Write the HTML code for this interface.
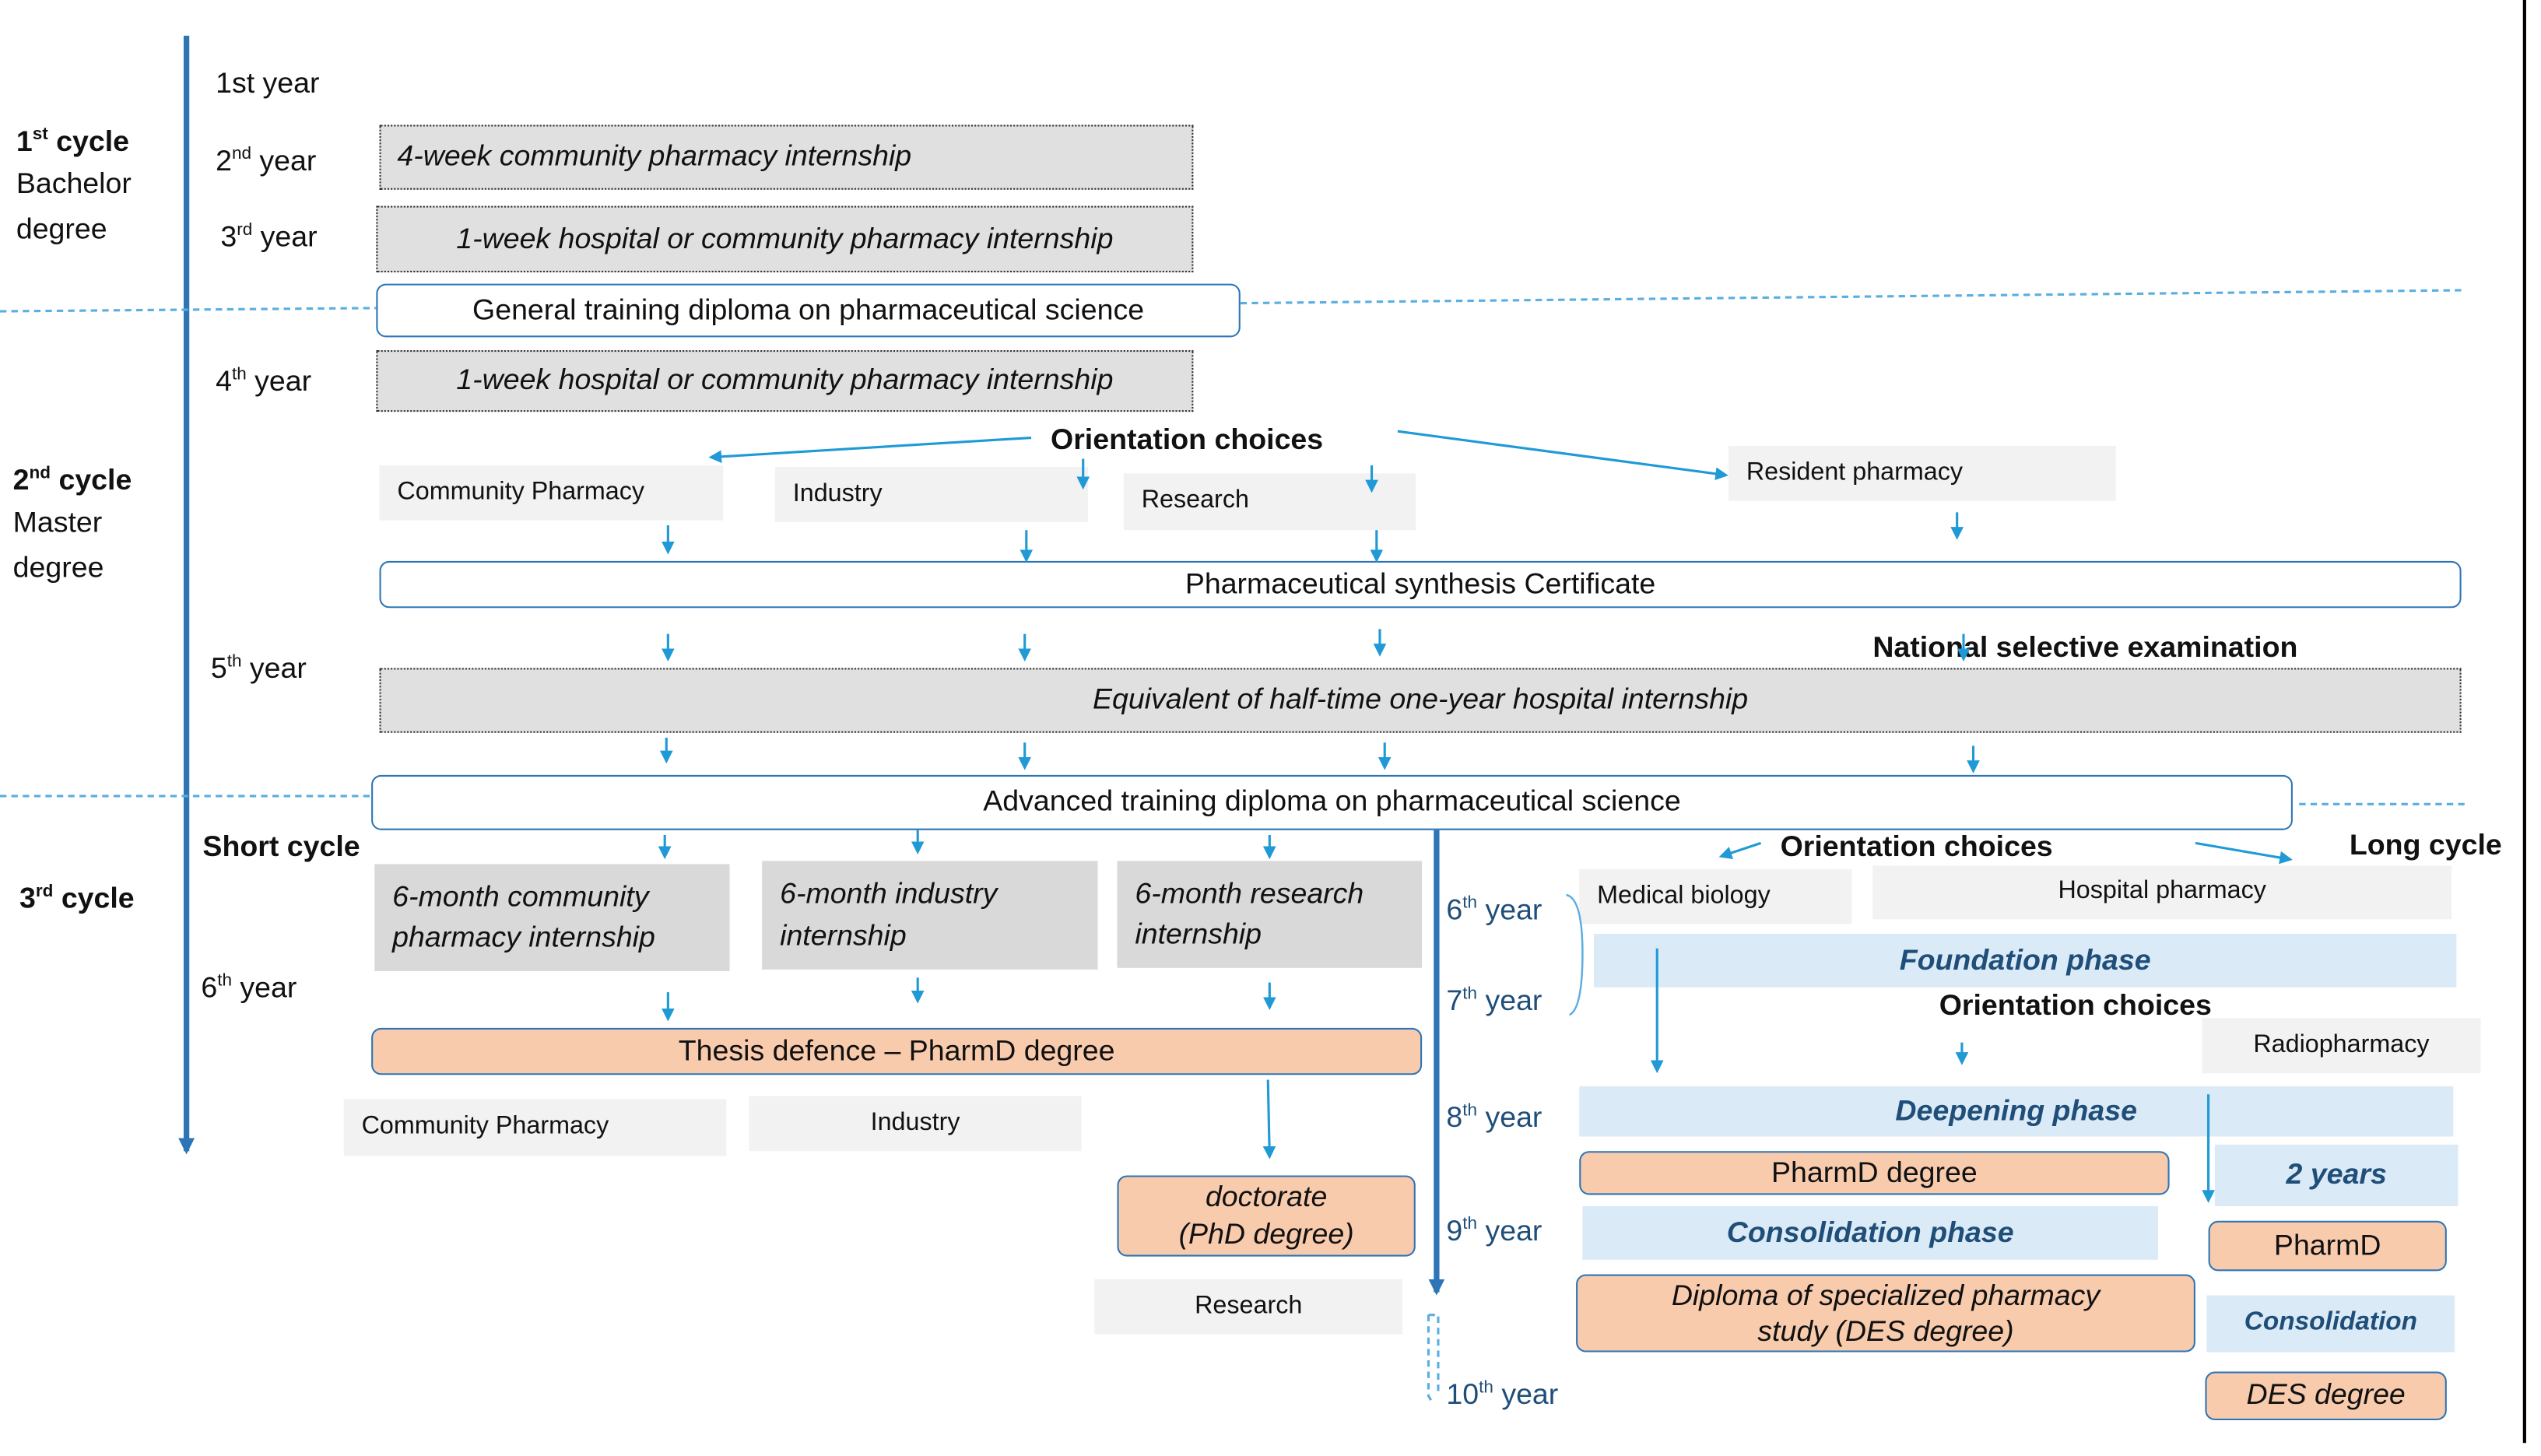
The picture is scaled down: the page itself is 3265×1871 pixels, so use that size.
<!DOCTYPE html>
<html><head><meta charset="utf-8"><style>
html,body{margin:0;padding:0;background:#fff;overflow:hidden}
#w{position:absolute;left:0;top:0;width:1560px;height:894px;transform:scale(2.0834);transform-origin:0 0;font-family:"Liberation Sans",sans-serif;color:#111}
.t{position:absolute;white-space:nowrap;font-size:18px;line-height:1}
.b{font-weight:bold}
.bx{position:absolute;box-sizing:border-box;display:flex;align-items:center;justify-content:center;text-align:center;font-size:17px;line-height:1.3;white-space:nowrap}
.gd{background:#e0e0e0;border:1.5px dotted #333;font-style:italic;font-size:18px}
.wb{background:#fff;border:1.5px solid #2e75b6;border-radius:6px;font-size:18px}
.lg{background:#f2f2f2;font-size:15.5px;justify-content:flex-start;padding-left:11px}
.g2{background:#d9d9d9;font-style:italic;font-size:18px;justify-content:flex-start;padding-left:11px;text-align:left;white-space:normal;line-height:1.4}
.sa{background:#f8cbad;border:1.5px solid #2e75b6;border-radius:6px;font-size:18px}
.lb{background:#dbeaf7;color:#1f4e79;font-weight:bold;font-style:italic;font-size:18px}
sup{font-size:60%;line-height:0}
svg{z-index:5}
</style></head><body><div id="w">
<svg width="1560" height="894" style="position:absolute;left:0;top:0">
<defs><marker id="a" markerWidth="8" markerHeight="8" refX="6" refY="4" orient="auto" markerUnits="userSpaceOnUse"><path d="M0,0L8,4L0,8z" fill="#1f9ad6"/></marker>
<marker id="a2" markerWidth="10" markerHeight="10" refX="8" refY="5" orient="auto" markerUnits="userSpaceOnUse"><path d="M0,0L10,5L0,10z" fill="#2e75b6"/></marker></defs>
<g stroke="#2e75b6" stroke-width="3.5" fill="none">
<line x1="115" y1="22" x2="115" y2="710" marker-end="url(#a2)"/>
<line x1="886" y1="512" x2="886" y2="797" marker-end="url(#a2)"/>
</g>
<line x1="1557" y1="0" x2="1557" y2="890" stroke="#000" stroke-width="2"/>
<g stroke="#5aaee0" stroke-width="1.5" stroke-dasharray="4,3" fill="none">
<line x1="0" y1="192" x2="232" y2="190"/><line x1="765" y1="187" x2="1520" y2="179"/>
<line x1="0" y1="491" x2="229" y2="491"/><line x1="1418" y1="496" x2="1520" y2="496"/>
<path d="M881,811h6v50M881,811v50l3,5"/>
</g>
<g stroke="#1f9ad6" stroke-width="1.5" fill="none" marker-end="url(#a)">
<line x1="636" y1="270" x2="439" y2="282"/><line x1="862" y1="266" x2="1064" y2="293"/>
<line x1="668" y1="283" x2="668" y2="300"/><line x1="846" y1="287" x2="846" y2="302"/>
<line x1="412" y1="324" x2="412" y2="340"/><line x1="633" y1="327" x2="633" y2="345"/>
<line x1="849" y1="327" x2="849" y2="345"/><line x1="1207" y1="316" x2="1207" y2="331"/>
<line x1="412" y1="391" x2="412" y2="406"/><line x1="632" y1="391" x2="632" y2="406"/>
<line x1="851" y1="388" x2="851" y2="403"/><line x1="1211" y1="391" x2="1211" y2="406"/>
<line x1="411" y1="455" x2="411" y2="469"/><line x1="632" y1="458" x2="632" y2="473"/>
<line x1="854" y1="458" x2="854" y2="473"/><line x1="1217" y1="460" x2="1217" y2="475"/>
<line x1="410" y1="515" x2="410" y2="528"/><line x1="566" y1="512" x2="566" y2="525"/>
<line x1="783" y1="515" x2="783" y2="528"/>
<line x1="412" y1="612" x2="412" y2="628"/><line x1="566" y1="603" x2="566" y2="617"/>
<line x1="783" y1="606" x2="783" y2="621"/>
<line x1="782" y1="666" x2="783" y2="713"/>
<line x1="1086" y1="520" x2="1062" y2="528"/><line x1="1354" y1="520" x2="1412" y2="530"/>
<line x1="1022" y1="585" x2="1022" y2="660"/><line x1="1210" y1="643" x2="1210" y2="655"/>
<line x1="1362" y1="675" x2="1362" y2="740"/>
</g>
<path d="M966,552q10,2 10,36q0,34-8,38" stroke="#5aaee0" stroke-width="1.2" fill="none"/>
</svg>

<div class="t b" style="left:10px;top:78px">1<sup>st</sup> cycle</div>
<div class="t" style="left:10px;top:104px">Bachelor</div>
<div class="t" style="left:10px;top:132px">degree</div>
<div class="t b" style="left:8px;top:287px">2<sup>nd</sup> cycle</div>
<div class="t" style="left:8px;top:313px">Master</div>
<div class="t" style="left:8px;top:341px">degree</div>
<div class="t b" style="left:12px;top:545px">3<sup>rd</sup> cycle</div>
<div class="t" style="left:133px;top:42px">1st year</div>
<div class="t" style="left:133px;top:90px">2<sup>nd</sup> year</div>
<div class="t" style="left:136px;top:137px">3<sup>rd</sup> year</div>
<div class="t" style="left:133px;top:226px">4<sup>th</sup> year</div>
<div class="t" style="left:130px;top:403px">5<sup>th</sup> year</div>
<div class="t" style="left:124px;top:600px">6<sup>th</sup> year</div>
<div class="t b" style="left:125px;top:513px">Short cycle</div>

<div class="bx gd" style="left:234px;top:77px;width:502px;height:40px;justify-content:flex-start;padding-left:10px">4-week community pharmacy internship</div>
<div class="bx gd" style="left:232px;top:127px;width:504px;height:41px">1-week hospital or community pharmacy internship</div>
<div class="bx wb" style="left:232px;top:175px;width:533px;height:33px">General training diploma on pharmaceutical science</div>
<div class="bx gd" style="left:232px;top:216px;width:504px;height:38px">1-week hospital or community pharmacy internship</div>

<div class="t b" style="left:648px;top:262px">Orientation choices</div>
<div class="bx lg" style="left:234px;top:287px;width:212px;height:34px">Community Pharmacy</div>
<div class="bx lg" style="left:478px;top:288px;width:193px;height:34px">Industry</div>
<div class="bx lg" style="left:693px;top:292px;width:180px;height:35px">Research</div>
<div class="bx lg" style="left:1066px;top:275px;width:239px;height:34px">Resident pharmacy</div>
<div class="bx wb" style="left:234px;top:346px;width:1284px;height:29px">Pharmaceutical synthesis Certificate</div>
<div class="t b" style="left:1155px;top:390px">National selective examination</div>
<div class="bx gd" style="left:234px;top:412px;width:1284px;height:40px">Equivalent of half-time one-year hospital internship</div>
<div class="bx wb" style="left:229px;top:478px;width:1185px;height:34px">Advanced training diploma on pharmaceutical science</div>

<div class="bx g2" style="left:231px;top:533px;width:219px;height:66px">6-month community pharmacy internship</div>
<div class="bx g2" style="left:470px;top:531px;width:207px;height:67px">6-month industry internship</div>
<div class="bx g2" style="left:689px;top:531px;width:188px;height:66px">6-month research internship</div>
<div class="bx sa" style="left:229px;top:634px;width:648px;height:29px">Thesis defence – PharmD degree</div>
<div class="bx lg" style="left:212px;top:678px;width:236px;height:35px">Community Pharmacy</div>
<div class="bx lg" style="left:462px;top:676px;width:205px;height:34px;justify-content:center;padding:0">Industry</div>
<div class="bx sa" style="left:689px;top:725px;width:184px;height:50px;font-style:italic;white-space:normal">doctorate<br>(PhD degree)</div>
<div class="bx lg" style="left:675px;top:789px;width:190px;height:34px;justify-content:center;padding:0">Research</div>

<div class="t b" style="left:1098px;top:513px">Orientation choices</div>
<div class="t b" style="left:1449px;top:512px">Long cycle</div>
<div class="t" style="left:892px;top:552px;color:#1f4e79">6<sup>th</sup> year</div>
<div class="t" style="left:892px;top:608px;color:#1f4e79">7<sup>th</sup> year</div>
<div class="t" style="left:892px;top:680px;color:#1f4e79">8<sup>th</sup> year</div>
<div class="t" style="left:892px;top:750px;color:#1f4e79">9<sup>th</sup> year</div>
<div class="t" style="left:892px;top:851px;color:#1f4e79">10<sup>th</sup> year</div>
<div class="bx lg" style="left:974px;top:536px;width:168px;height:34px">Medical biology</div>
<div class="bx lg" style="left:1155px;top:534px;width:357px;height:33px;justify-content:center;padding:0">Hospital pharmacy</div>
<div class="bx lb" style="left:983px;top:576px;width:532px;height:33px">Foundation phase</div>
<div class="t b" style="left:1196px;top:611px">Orientation choices</div>
<div class="bx lg" style="left:1358px;top:628px;width:172px;height:34px;justify-content:center;padding:0">Radiopharmacy</div>
<div class="bx lb" style="left:974px;top:670px;width:539px;height:31px">Deepening phase</div>
<div class="bx sa" style="left:974px;top:710px;width:364px;height:27px">PharmD degree</div>
<div class="bx lb" style="left:1366px;top:706px;width:150px;height:38px">2 years</div>
<div class="bx lb" style="left:976px;top:744px;width:355px;height:33px">Consolidation phase</div>
<div class="bx sa" style="left:1362px;top:753px;width:147px;height:31px">PharmD</div>
<div class="bx sa" style="left:972px;top:786px;width:382px;height:48px;font-style:italic;white-space:normal;line-height:1.25">Diploma of specialized pharmacy<br>study (DES degree)</div>
<div class="bx lb" style="left:1361px;top:799px;width:153px;height:35px;font-size:16px">Consolidation</div>
<div class="bx sa" style="left:1360px;top:846px;width:149px;height:30px;font-style:italic">DES degree</div>
</div></body></html>
